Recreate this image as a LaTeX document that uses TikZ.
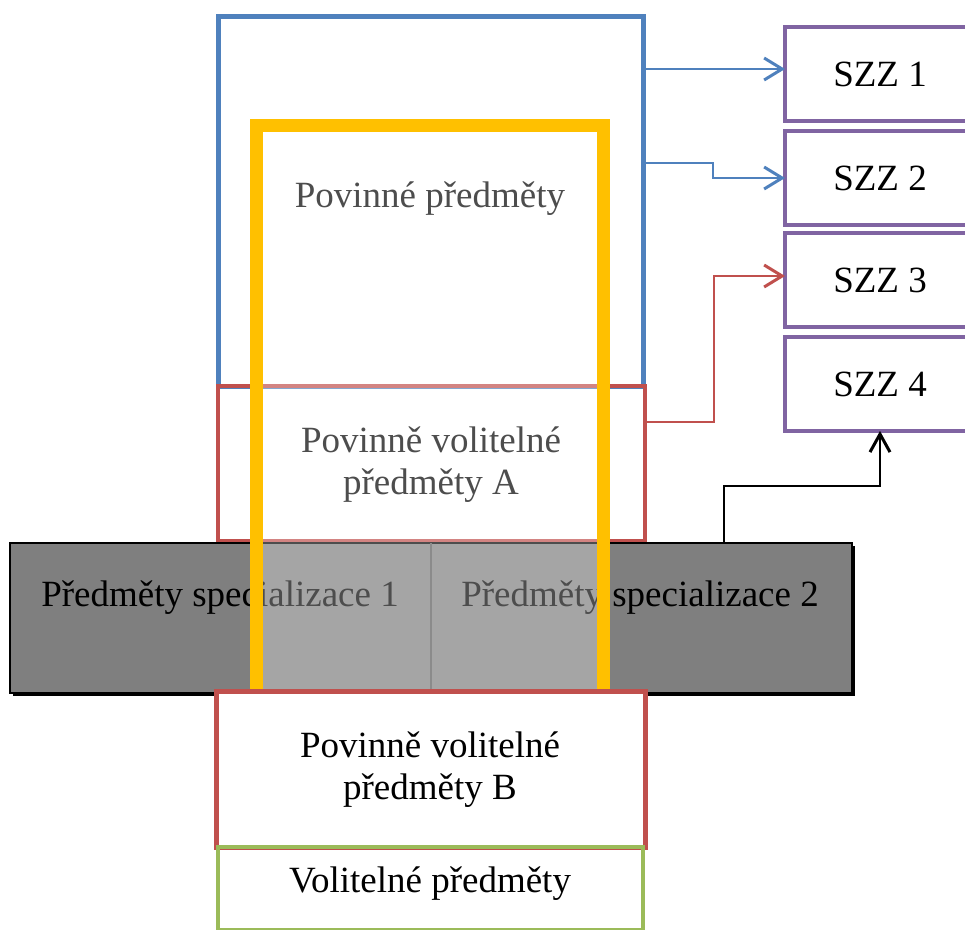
\documentclass[tikz,border=0pt]{standalone}
\usepackage{fontspec}
\setmainfont{Liberation Serif}
\usetikzlibrary{arrows.meta,shadows}
\definecolor{frameblue}{HTML}{4F81BD}
\definecolor{framered}{HTML}{C0504D}
\definecolor{framegreen}{HTML}{9BBB59}
\definecolor{framepurple}{HTML}{8064A2}
\definecolor{frameyellow}{HTML}{FFC000}
\definecolor{bandgray}{HTML}{7F7F7F}
\tikzset{box/.style={draw, rectangle, inner sep=0pt, outer sep=0pt},
txt/.style={font=\fontsize{37}{42}\selectfont, align=center, inner sep=0pt},
blueframe/.style={draw=frameblue, line width=5pt},
redframe/.style={draw=framered, line width=5pt},
greenframe/.style={draw=framegreen, line width=4pt},
coreframe/.style={draw=frameyellow, line width=13pt, fill=white, fill opacity=0.3},
band/.style={fill=bandgray, draw=black, line width=1.5pt,
  drop shadow={fill=black, opacity=1, shadow xshift=3pt, shadow yshift=-3pt}},
divider/.style={draw=black!65, line width=1.5pt},
szz/.style={draw=framepurple, line width=4pt, fill=white, minimum width=190pt, minimum height=94pt, txt},
%open tips like the original
bluearrow/.style={draw=frameblue, line width=1.5pt, -{Straight Barb[length=18pt,width=22pt,line width=3pt]}},
redarrow/.style={draw=framered, line width=2pt, -{Straight Barb[length=18pt,width=22pt,line width=3pt]}},
blackarrow/.style={draw=black, line width=1.5pt, -{Straight Barb[length=18pt,width=20pt,line width=3pt]}}}

\begin{document}
\begin{tikzpicture}[x=1pt,y=-1pt]
\useasboundingbox (0,0) rectangle (965,929);
% outer frames
\node[box,blueframe,minimum width=425pt,minimum height=370pt] (povinne) at (430.5,201) {};
\node[box,redframe,line width=4pt,minimum width=427pt,minimum height=155pt] (volA) at (431.5,463.5) {};

% specialisation band
\node[box,band,minimum width=842pt,minimum height=150pt] (spec) at (431,618) {};
\draw[divider] (spec.north) -- (spec.south);

%labels
\node[txt] (tpov) at (430,199) {Povinné předměty};
\node[txt] (tvolA) at (431,465) {Povinně volitelné\\předměty A};
\node[txt] (tspec1) at (220,598) {Předměty specializace 1};
\node[txt] (tspec2) at (640,598) {Předměty specializace 2};

% core frame over everything above
\node[box,coreframe,minimum width=347pt,minimum height=575pt] (jadro) at (429.5,412.5) {};

% lower frames
\node[box,redframe,fill=white,minimum width=429pt,minimum height=156pt] (volB) at (430.5,769) {};
\node[txt] (tvolB) at (430,770) {Povinně volitelné\\předměty B};
\node[box,greenframe,minimum width=425pt,minimum height=83pt] (volit) at (430.5,888.5) {};
\node[txt] (tvolit) at (430,884) {Volitelné předměty};

% state exam parts
\foreach \i/\y in {1/74,2/178,3/280,4/384}
     \node[box,szz] (szz\i) at (880,\y) {SZZ \i};

% arrows
\coordinate (in1) at ([yshift=5pt]szz1.west);
\draw[bluearrow] (povinne.east |- in1) -- (in1);
\draw[bluearrow] ([yshift=38pt]povinne.east) -- ++(70,0) |- (szz2.west);
\draw[redarrow] ([yshift=42pt]volA.east) -- ++(69,0) |- ([yshift=4pt]szz3.west);
\draw[blackarrow] ([xshift=293pt]spec.north) -- ++(0,-57) -| (szz4.south);
\end{tikzpicture}
\end{document}
